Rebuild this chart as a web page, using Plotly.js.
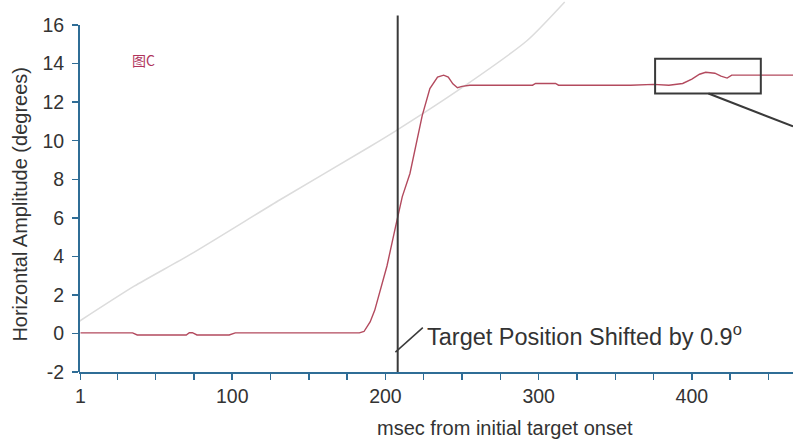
<!DOCTYPE html>
<html>
<head>
<meta charset="utf-8">
<script src="https://cdn.plot.ly/plotly-3.0.1.min.js"></script>
<style>html,body{margin:0;padding:0;background:#fff;}#chart{width:793px;height:441px;}</style>
</head>
<body>
<div id="chart"></div>
<script>
// Eye trace: horizontal amplitude (degrees) vs msec
const msec = [1, 35, 38, 70, 72, 74, 77, 98, 102, 183, 186, 190, 193, 197, 201, 206.5, 211, 216, 218, 224, 229, 234, 238, 241, 244, 247, 250, 255, 296, 298, 311, 313, 360, 375, 385, 394, 400, 405, 409, 415, 419, 423, 426, 430, 466];
const amplitude = [0.03, 0.03, -0.08, -0.08, 0.04, 0.04, -0.08, -0.08, 0.03, 0.03, 0.1, 0.6, 1.2, 2.3, 3.5, 5.5, 7.1, 8.3, 9.1, 11.3, 12.7, 13.3, 13.4, 13.3, 12.95, 12.75, 12.82, 12.88, 12.88, 12.97, 12.97, 12.88, 12.88, 12.92, 12.88, 12.97, 13.2, 13.45, 13.55, 13.5, 13.35, 13.25, 13.4, 13.4, 13.4];

// Light gray reference curve
const curveX = [0, 36, 72.7, 131.5, 190, 206.5, 249, 292.5, 317];
const curveY = [0.62, 2.45, 4.1, 6.95, 9.7, 10.5, 12.7, 15.2, 17.2];

// Target shift moment
const shiftMs = 208;
const targetLabel = 'Target Position Shifted by 0.9<sup>o</sup>';
const panelLabel = '图C';

// Axis ticks
const xTickVals = [1, 100, 200, 300, 400];
const xTickText = ['1', '100', '200', '300', '400'];
const xMinorVals = [25, 50, 75, 125, 150, 175, 225, 250, 275, 325, 350, 375, 425, 450];
const yTickVals = [-2, 0, 2, 4, 6, 8, 10, 12, 14, 16];
const yTickText = ['-2', '0', '2', '4', '6', '8', '10', '12', '14', '16'];

// Zoom box around the later deviation
const zoomBoxX = [376, 445];
const zoomBoxY = [12.45, 14.25];

const axisColor = '#2f6d96';
const font = 'Liberation Sans, Arial, sans-serif';

const traces = [
  {x: curveX, y: curveY, mode: 'lines', line: {color: '#dcdcdc', width: 1.5, shape: 'spline', smoothing: 0.6}, hoverinfo: 'skip', showlegend: false},
  {x: msec, y: amplitude, mode: 'lines', line: {color: '#b34a5e', width: 1.4}, showlegend: false}
];

const layout = {
  width: 793, height: 441,
  margin: {l: 79, r: 0, t: 0, b: 69},
  paper_bgcolor: '#fff', plot_bgcolor: '#fff',
  showlegend: false,
  font: {family: font, color: '#333'},
  xaxis: {
    range: [0, 466], showgrid: false, zeroline: false,
    showline: true, linecolor: axisColor, linewidth: 2,
    ticks: 'outside', ticklen: 6, tickwidth: 1.5, tickcolor: axisColor,
    tickmode: 'array', tickvals: xTickVals, ticktext: xTickText,
    tickfont: {size: 19.5, color: '#333', family: font},
    minor: {ticks: 'outside', ticklen: 6, tickwidth: 1.5, tickcolor: axisColor, tickmode: 'array', tickvals: xMinorVals, showgrid: false}
  },
  yaxis: {
    range: [-2, 17.3], showgrid: false, zeroline: false,
    showline: false,
    ticks: 'outside', ticklen: 6, tickwidth: 1.5, tickcolor: axisColor,
    tickmode: 'array', tickvals: yTickVals, ticktext: yTickText,
    tickfont: {size: 19.5, color: '#333', family: font},
    ticklabelstandoff: 4
  },
  shapes: [
    {type: 'line', xref: 'paper', yref: 'y', x0: 0, x1: 0, y0: -2, y1: 16, line: {color: axisColor, width: 2}},
    {type: 'line', xref: 'x', yref: 'y', x0: shiftMs, x1: shiftMs, y0: -2, y1: 16.5, line: {color: '#3a3a3a', width: 2}},
    {type: 'line', xref: 'x', yref: 'y', x0: shiftMs - 1.5, x1: 224.4, y0: -0.97, y1: 0.3, line: {color: '#3a3a3a', width: 1.5}},
    {type: 'rect', xref: 'x', yref: 'y', x0: zoomBoxX[0], x1: zoomBoxX[1], y0: zoomBoxY[0], y1: zoomBoxY[1], line: {color: '#3a3a3a', width: 2}},
    {type: 'line', xref: 'x', yref: 'y', x0: 410.8, x1: 466, y0: zoomBoxY[0], y1: 10.74, line: {color: '#3a3a3a', width: 2}}
  ],
  annotations: [
    {xref: 'paper', yref: 'paper', x: 0.597, y: -0.15, xanchor: 'center', yanchor: 'middle', showarrow: false,
     text: 'msec from initial target onset', font: {size: 20, color: '#333', family: font}},
    {xref: 'paper', yref: 'paper', x: -0.0826, y: 0.45, xanchor: 'center', yanchor: 'middle', showarrow: false, textangle: -90,
     text: 'Horizontal Amplitude (degrees)', font: {size: 20, color: '#333', family: font}},
    {xref: 'paper', yref: 'paper', x: 0.0714, y: 0.839, xanchor: 'left', yanchor: 'middle', showarrow: false,
     text: panelLabel, font: {size: 14, color: '#b0345c', family: 'Noto Sans CJK SC, sans-serif'}},
    {xref: 'x', yref: 'y', x: 226, y: -0.1, xanchor: 'left', yanchor: 'middle', showarrow: false,
     text: targetLabel, font: {size: 23.5, color: '#333', family: font}}
  ]
};

Plotly.newPlot('chart', traces, layout, {displayModeBar: false, staticPlot: true});
</script>
</body>
</html>
